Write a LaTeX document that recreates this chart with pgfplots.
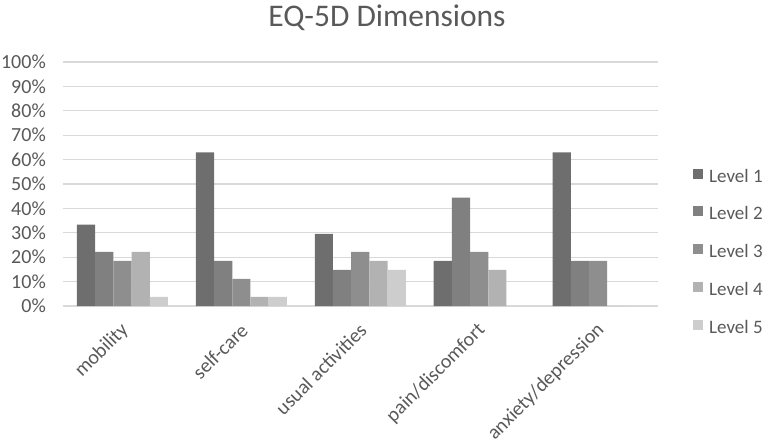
\documentclass[border=0pt]{standalone}
\usepackage{pgfplots}
\pgfplotsset{compat=1.18}
\usepackage{fontspec}
\setmainfont{Carlito}
\definecolor{lvA}{HTML}{6E6E6E}
\definecolor{lvB}{HTML}{808080}
\definecolor{lvC}{HTML}{8E8E8E}
\definecolor{lvD}{HTML}{B2B2B2}
\definecolor{lvE}{HTML}{CDCDCD}
\definecolor{txt}{HTML}{595959}
\definecolor{grd}{HTML}{D9D9D9}
\begin{document}
\begin{tikzpicture}[x=1pt,y=1pt]
\useasboundingbox (0,0) rectangle (765,442);
\begin{axis}[
  at={(63pt,136pt)}, anchor=south west,
  scale only axis, width=594.5pt, height=244pt,
  ymin=0, ymax=100, xmin=-0.5, xmax=4.5,
  enlargelimits=false,
  ybar=0pt, bar width=18.2pt,
  axis line style={draw=none},
  major tick length=0pt,
  ymajorgrids, grid style={grd, line width=1.2pt},
  ytick={0,10,...,100},
  yticklabel={\pgfmathprintnumber{\tick}\%},
  xtick={0,1,2,3,4},
  xticklabels={mobility,self-care,usual activities,pain/discomfort,anxiety/depression},
  /pgf/number format/assume math mode=true,
  tick label style={font=\fontsize{20}{22}\selectfont, text=txt},
  yticklabel style={anchor=east, inner sep=0pt, xshift=-17pt},
  xticklabel style={anchor=east, inner sep=0pt, yshift=-21pt, xshift=3pt, rotate=45},
  title={EQ-5D Dimensions},
  title style={at={(0.545,1)}, anchor=base, yshift=29pt, font=\fontsize{31.5}{34}\selectfont, text=txt},
  legend style={at={(1.0547,0.572)}, anchor=north west, draw=none, fill=none,
    font=\fontsize{19}{21}\selectfont, text=txt, row sep=20.3pt,
    nodes={inner sep=0pt, text height=13pt, text depth=4pt}},
  legend cell align=left,
  legend image code/.code={\fill[#1] (0pt,-1pt) rectangle (10pt,9pt); \path (16pt,4pt);},
]
\addplot[fill=lvA, draw=none] coordinates {(0,33.3) (1,63.0) (2,29.6) (3,18.5) (4,63.0)};
\addplot[fill=lvB, draw=none] coordinates {(0,22.2) (1,18.5) (2,14.8) (3,44.4) (4,18.5)};
\addplot[fill=lvC, draw=none] coordinates {(0,18.5) (1,11.1) (2,22.2) (3,22.2) (4,18.5)};
\addplot[fill=lvD, draw=none] coordinates {(0,22.2) (1,3.7) (2,18.5) (3,14.8) (4,0)};
\addplot[fill=lvE, draw=none] coordinates {(0,3.7) (1,3.7) (2,14.8) (3,0) (4,0)};
\legend{Level 1,Level 2,Level 3,Level 4,Level 5}
\end{axis}
\end{tikzpicture}
\end{document}
